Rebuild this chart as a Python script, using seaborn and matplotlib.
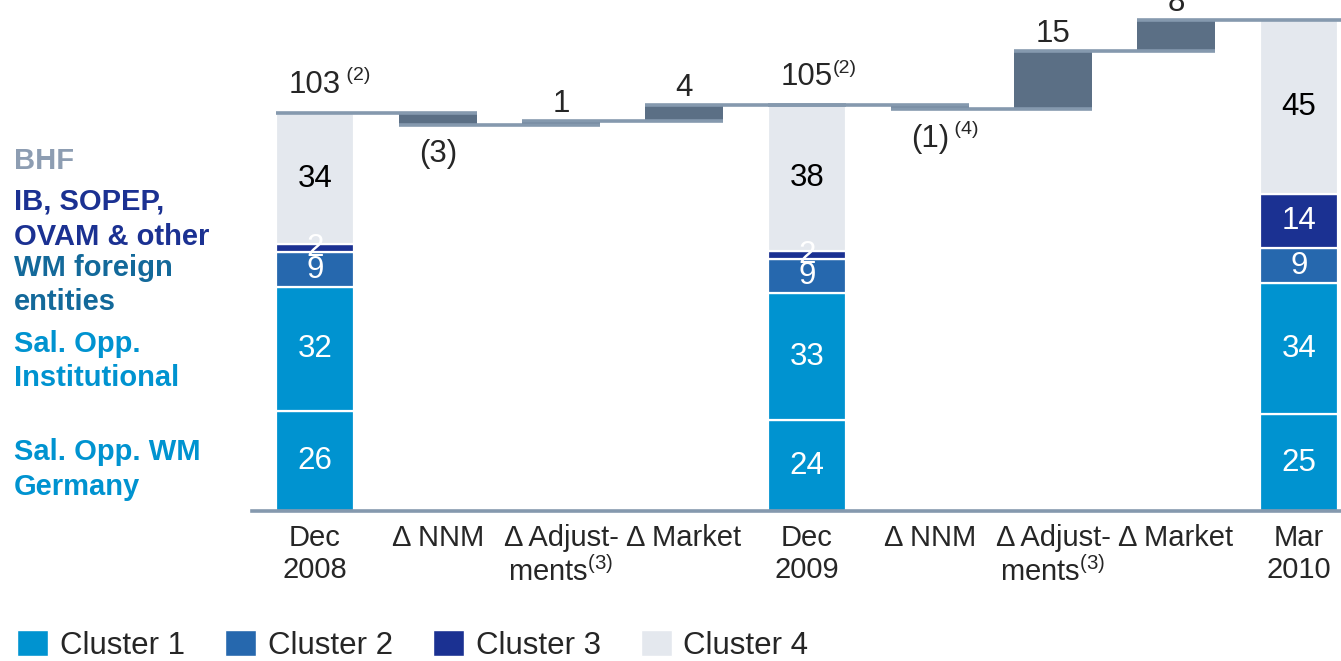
import matplotlib
matplotlib.use('Agg')
import matplotlib.pyplot as plt
import seaborn as sns
import numpy as np
from matplotlib.patches import Patch

# bridge steps (unique keys) and their axis labels
steps = ['s0', 's1', 's2', 's3', 's4', 's5', 's6', 's7', 's8']
step_labels = ['Dec\n2008', 'Δ NNM', 'Δ Adjust-\nments$^{(3)}$', 'Δ Market', 'Dec\n2009',
               'Δ NNM', 'Δ Adjust-\nments$^{(3)}$', 'Δ Market', 'Mar\n2010']
total_pos = [0, 4, 8]
delta_pos = [1, 2, 3, 5, 6, 7]

# stacked segments of the three totals, bottom to top
wm_germany = [26, 23.5, 25]
institutional = [32, 32.8, 34]
wm_foreign = [9, 8.9, 9]
ib_sopep = [2, 2.1, 14]
bhf = [34, 37.7, 45]
total_notes = [' (2)', '(2)', None]
show_total = [True, True, False]

# changes between totals
deltas = [-3, 1, 4, -1, 15, 8]
delta_notes = [None, None, None, ' (4)', None, None]

# left-hand segment captions
side_text = ['BHF', 'IB, SOPEP,', 'OVAM & other', 'WM foreign', 'entities',
             'Sal. Opp.', 'Institutional', 'Sal. Opp. WM', 'Germany']
side_y = [161, 202, 237, 268, 302, 344, 378, 452, 487]

legend_labels = ['Cluster 1', 'Cluster 2', 'Cluster 3', 'Cluster 4']

c1 = '#0093D0'
c2 = '#2668AE'
c3 = '#1B3192'
c4 = '#E4E8EE'
dark = '#5B6F85'
line_c = '#8599AE'
side_colors = ['#8D9DB2', c3, c3, '#13699A', '#13699A', c1, c1, c1, c1]

sns.set_style('white')
plt.rcParams['font.family'] = ['Liberation Sans', 'DejaVu Sans']
plt.rcParams['mathtext.fontset'] = 'custom'
plt.rcParams['mathtext.rm'] = 'Liberation Sans'
plt.rcParams['mathtext.default'] = 'regular'

W, H = 1341, 661
fig = plt.figure(figsize=(W / 100, H / 100), dpi=100)
ax = fig.add_axes([252 / W, 150 / H, 1 - 252 / W, 511 / H])

fs = 22.5
bw = 0.634
layers = [wm_germany, institutional, wm_foreign, ib_sopep, bhf]
layer_colors = [c1, c1, c2, c3, c4]
x_tot = [steps[i] for i in total_pos]
bottom = np.zeros(3)
for vals, col in zip(layers, layer_colors):
    vals = np.array(vals, dtype=float)
    sns.barplot(x=x_tot, y=vals, order=steps, bottom=bottom, color=col, saturation=1,
                width=bw, errorbar=None, edgecolor='white', linewidth=1.6, ax=ax)
    for p, v, b in zip(total_pos, vals, bottom):
        ax.text(p, b + v / 2, f'{round(v)}', ha='center', va='center', fontsize=fs,
                color='black' if col == c4 else 'white', zorder=5)
    bottom = bottom + vals
totals = bottom

# running level through the bridge
levels = []
lvl = totals[0]
d_bottom, d_height = [], []
k = 0
for i in range(len(steps)):
    if i in total_pos:
        lvl = totals[total_pos.index(i)]
    else:
        d = deltas[k]
        d_bottom.append(min(lvl, lvl + d))
        d_height.append(abs(d))
        lvl = lvl + d
        k += 1
    levels.append(lvl)

sns.barplot(x=[steps[i] for i in delta_pos], y=d_height, order=steps, bottom=d_bottom,
            color=dark, saturation=1, width=bw, errorbar=None, linewidth=0, ax=ax)

xmax = 8.341
for i in range(len(steps) - 1):
    right = i + 1 + bw / 2 if i + 1 < len(steps) - 1 else xmax
    ax.hlines(levels[i], i - bw / 2, right, color=line_c, lw=2.6, zorder=4)

# total labels
for j, p in enumerate(total_pos):
    if not show_total[j]:
        continue
    t = ax.annotate(f'{round(totals[j])}', xy=(p, totals[j]), xytext=(0, 14.5),
                    textcoords='offset points', ha='center', va='baseline', fontsize=fs)
    if total_notes[j]:
        ax.annotate(total_notes[j], xy=(1, 0), xycoords=t, xytext=(0, 14),
                    textcoords='offset points', ha='left', va='baseline', fontsize=14)

# delta labels
for k, p in enumerate(delta_pos):
    d = deltas[k]
    if d >= 0:
        t = ax.annotate(f'{d}', xy=(p, levels[p]), xytext=(0, 6.5), textcoords='offset points',
                        ha='center', va='baseline', fontsize=fs, annotation_clip=False)
    else:
        t = ax.annotate(f'({-d})', xy=(p, levels[p]), xytext=(0, -27), textcoords='offset points',
                        ha='center', va='baseline', fontsize=fs)
    if delta_notes[k]:
        ax.annotate(delta_notes[k], xy=(1, 0), xycoords=t, xytext=(0, 14),
                    textcoords='offset points', ha='left', va='baseline', fontsize=14)

ax.set_xlim(-0.512, xmax)
ax.set_ylim(0, 511 / 3.864)
ax.set_xticks(range(len(steps)))
ax.set_xticklabels(step_labels, fontsize=21)
ax.tick_params(axis='x', length=0, pad=9)
ax.set_yticks([])
ax.set_xlabel('')
ax.set_ylabel('')
sns.despine(ax=ax, left=True)
ax.spines['bottom'].set_color(line_c)
ax.spines['bottom'].set_linewidth(2.6)

for txt, y, col in zip(side_text, side_y, side_colors):
    fig.text(14 / W, 1 - y / H, txt, ha='left', va='center', fontsize=21,
             fontweight='bold', color=col)

handles = [Patch(facecolor=c) for c in [c1, c2, c3, c4]]
fig.legend(handles, legend_labels, loc='lower left', bbox_to_anchor=(17 / W, 0), ncol=4,
           frameon=False, fontsize=fs, handlelength=0.99, handleheight=0.9,
           handletextpad=0.38, columnspacing=1.28, borderpad=0, borderaxespad=0)

fig.savefig('out.png', dpi=100)
